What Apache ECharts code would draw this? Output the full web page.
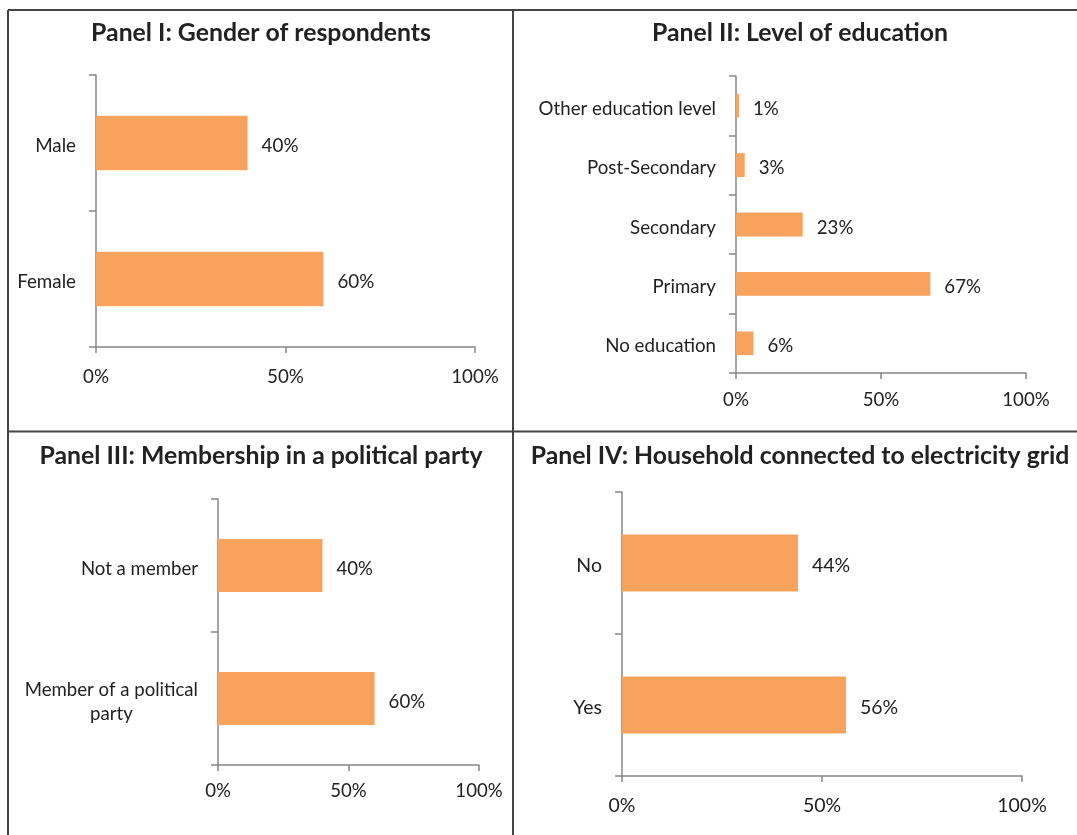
<!DOCTYPE html>
<html>
<head>
<meta charset="utf-8">
<script src="https://cdn.jsdelivr.net/npm/echarts@6/dist/echarts.min.js"></script>
<style>
html,body{margin:0;padding:0;background:#fff;}
#main{width:1077px;height:835px;}
</style>
</head>
<body>
<div id="main"></div>
<script>
// ---- Data ----
const titles = [
  'Panel I: Gender of respondents',
  'Panel II: Level of education',
  'Panel III: Membership in a political party',
  'Panel IV: Household connected to electricity grid'
];
const genderCats = ['Male', 'Female'];
const genderVals = [40, 60];
const eduCats = ['Other education level', 'Post-Secondary', 'Secondary', 'Primary', 'No education'];
const eduVals = [1, 3, 23, 67, 6];
const partyCats = ['Not a member', 'Member of a political\nparty'];
const partyVals = [40, 60];
const gridCats = ['No', 'Yes'];
const gridVals = [44, 56];
const xTicks = [0, 50, 100];

const FONT = 'Lato, "Open Sans", sans-serif';
const TXT = '#222222';
const AX = '#878787';
const BAR = '#F7A35E';

const grids = [
  {left: 96, top: 75, width: 379, height: 272},
  {left: 736, top: 76, width: 290, height: 297},
  {left: 218, top: 499, width: 261, height: 266},
  {left: 622, top: 492, width: 400, height: 284}
];
const fs = [18.8, 18.7, 18.6, 19.5];
const xMargins = [20, 17, 16, 20];
const cats = [genderCats, eduCats, partyCats, gridCats];
const vals = [genderVals, eduVals, partyVals, gridVals];

const xAxis = grids.map((g, i) => ({
  type: 'value', gridIndex: i, min: xTicks[0], max: xTicks[xTicks.length - 1],
  interval: xTicks[1] - xTicks[0],
  axisLine: {show: true, lineStyle: {color: AX, width: 1.5}},
  axisTick: {show: true, inside: false, length: 6, lineStyle: {color: AX, width: 1.5}},
  splitLine: {show: false},
  axisLabel: {formatter: '{value}%', color: TXT, fontSize: fs[i], fontFamily: FONT, margin: xMargins[i]}
}));

const yAxis = grids.map((g, i) => ({
  type: 'category', gridIndex: i, data: cats[i], inverse: true,
  axisLine: {show: true, lineStyle: {color: AX, width: 1.5}},
  axisTick: {show: true, inside: false, length: 7, lineStyle: {color: AX, width: 1.5}},
  splitLine: {show: false},
  axisLabel: {
    color: TXT, fontSize: fs[i], fontFamily: FONT, margin: 20, padding: [6, 0, 0, 0],
    formatter: v => v.split('\n').map(s => '{c|' + s + '}').join('\n'),
    rich: {c: {align: 'center', color: TXT, fontSize: fs[i], fontFamily: FONT, lineHeight: 24}}
  }
}));

const series = grids.map((g, i) => ({
  type: 'bar', xAxisIndex: i, yAxisIndex: i, data: vals[i], barWidth: '40%',
  itemStyle: {color: BAR},
  label: {show: true, position: 'right', distance: 14, offset: [0, 3], formatter: '{c}%', color: TXT, fontSize: fs[i], fontFamily: FONT},
  silent: true
}));

const titlePos = [[261, 33], [800, 33], [261, 456], [800, 456]];
const graphic = [];
titles.forEach((t, i) => {
  graphic.push({type: 'text', x: titlePos[i][0], y: titlePos[i][1], silent: true,
    style: {text: t, fill: TXT, font: 'bold 24.8px ' + FONT, textAlign: 'center', textVerticalAlign: 'middle'}});
});
const BORDER = {stroke: '#444', lineWidth: 2};
[[8, 10, 1090, 10], [8, 10, 8, 840], [513, 10, 513, 840], [8, 431.5, 1090, 431.5]].forEach(l => {
  graphic.push({type: 'line', silent: true, shape: {x1: l[0], y1: l[1], x2: l[2], y2: l[3]}, style: BORDER});
});

const chart = echarts.init(document.getElementById('main'));
chart.setOption({
  animation: false,
  grid: grids,
  xAxis: xAxis,
  yAxis: yAxis,
  series: series,
  graphic: graphic
});
</script>
</body>
</html>
